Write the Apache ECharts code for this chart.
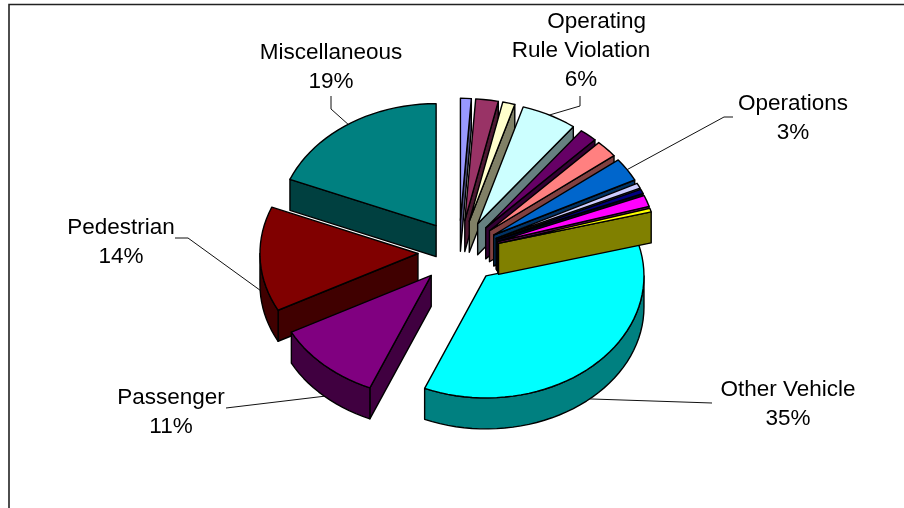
<!DOCTYPE html>
<html>
<head>
<meta charset="utf-8">
<style>
  html, body { margin: 0; padding: 0; background: #fff; }
  #chart { width: 904px; height: 508px; }
</style>
<script src="https://cdn.jsdelivr.net/npm/echarts@6/dist/echarts.min.js"></script>
</head>
<body>
<div id="chart"></div>
<script>
// slices run clockwise from 12 o'clock, only six of them carry a label
const categories = ['', '', '', '     Operating\nRule Violation', '', '', 'Operations', '', '', '', '', 'Other Vehicle', 'Passenger', 'Pedestrian', 'Miscellaneous'];
const values = [1.1, 2.3, 1.25, 5.7, 1.8, 2.3, 3.1, 0.7, 0.6, 1.5, 0.5, 35.49, 10.95, 13.9, 18.8];
const colors = ['#9999FF', '#993366', '#FFFFCC', '#CCFFFF', '#660066', '#FF8080', '#0066CC', '#CCCCFF', '#000080', '#FF00FF', '#FFFF00', '#00FFFF', '#800080', '#800000', '#008080'];
const sideColors = ['#4D4D80', '#4D1A33', '#808066', '#668080', '#330033', '#804040', '#003366', '#666680', '#000040', '#800080', '#808000', '#008080', '#400040', '#400000', '#004040'];

// back to front
const drawOrder = [14, 13, 12, 11, 0, 1, 2, 3, 4, 5, 6, 7, 8, 9, 10];

// label centre and the knee of its leader line, by slice index
const labelSpots = {
    3: { x: 581, y: 7, leader: [[580, 96], [580, 106]] },
    6: { x: 793, y: 89, leader: [[733, 117], [724, 117]] },
    11: { x: 788, y: 375, leader: [[712, 403]] },
    12: { x: 171, y: 383, leader: [[226, 408]] },
    13: { x: 121, y: 213, leader: [[175, 238], [188, 238]] },
    14: { x: 331, y: 38, leader: [[331, 96], [331, 109]] }
};

const cx = 459, cy = 252;
const rx = 158, ry = 122;
const blast = 0.26;   // explosion as a share of the radius
const depth = 31;
const edge = { stroke: '#000', lineWidth: 1.4, lineJoin: 'round' };

const total = values.reduce((a, b) => a + b, 0);

function rimPoint(apex, deg) {
    const r = deg * Math.PI / 180;
    return [apex[0] + rx * Math.sin(r), apex[1] - ry * Math.cos(r)];
}

function arcPoints(apex, from, to) {
    const pts = [];
    const steps = Math.max(2, Math.ceil((to - from) / 3));
    for (let i = 0; i <= steps; i++) {
        pts.push(rimPoint(apex, from + (to - from) * i / steps));
    }
    return pts;
}

function down(p) {
    return [p[0], p[1] + depth];
}

function poly(points, fill) {
    return { type: 'polygon', shape: { points: points }, style: Object.assign({ fill: fill }, edge) };
}

function renderSlice(params) {
    const idx = drawOrder[params.dataIndex];
    let before = 0;
    for (let i = 0; i < idx; i++) before += values[i];
    const start = before / total * 360;
    const end = (before + values[idx]) / total * 360;
    const mid = (start + end) / 2;
    const midRad = mid * Math.PI / 180;
    const apex = [cx + blast * rx * Math.sin(midRad), cy - blast * ry * Math.cos(midRad)];
    const children = [];

    // cut faces that look towards the viewer
    if (Math.sin(end * Math.PI / 180) > 0) {
        const p = rimPoint(apex, end);
        children.push(poly([apex, p, down(p), down(apex)], sideColors[idx]));
    }
    if (Math.sin(start * Math.PI / 180) < 0) {
        const p = rimPoint(apex, start);
        children.push(poly([apex, p, down(p), down(apex)], sideColors[idx]));
    }

    // outer wall, front half only
    const wallFrom = Math.max(start, 90), wallTo = Math.min(end, 270);
    if (wallTo > wallFrom) {
        const arc = arcPoints(apex, wallFrom, wallTo);
        children.push(poly(arc.concat(arc.map(down).reverse()), sideColors[idx]));
    }

    children.push(poly([apex].concat(arcPoints(apex, start, end)), colors[idx]));

    const spot = labelSpots[idx];
    if (spot) {
        let tip = rimPoint(apex, mid);
        if (Math.cos(midRad) < 0) tip = down(tip);
        children.push({
            type: 'polyline',
            shape: { points: spot.leader.concat([tip]) },
            style: { stroke: '#111', lineWidth: 1, fill: null }
        });
        children.push({
            type: 'text',
            style: {
                text: categories[idx] + '\n' + Math.round(values[idx] / total * 100) + '%',
                x: spot.x,
                y: spot.y,
                align: 'center',
                verticalAlign: 'top',
                font: '22.5px "Liberation Sans", Arial, sans-serif',
                lineHeight: 29,
                fill: '#000'
            }
        });
    }
    return { type: 'group', children: children };
}

const chart = echarts.init(document.getElementById('chart'), null, { renderer: 'canvas' });
chart.setOption({
    animation: false,
    backgroundColor: '#fff',
    graphic: [{
        type: 'polyline',
        shape: { points: [[9, 508], [9, 4.5], [904, 4.5]] },
        style: { stroke: '#222', lineWidth: 1.6, fill: null },
        silent: true
    }],
    series: [{
        type: 'custom',
        coordinateSystem: 'none',
        silent: true,
        renderItem: renderSlice,
        data: drawOrder.map(i => [i, values[i]])
    }]
});
</script>
</body>
</html>
